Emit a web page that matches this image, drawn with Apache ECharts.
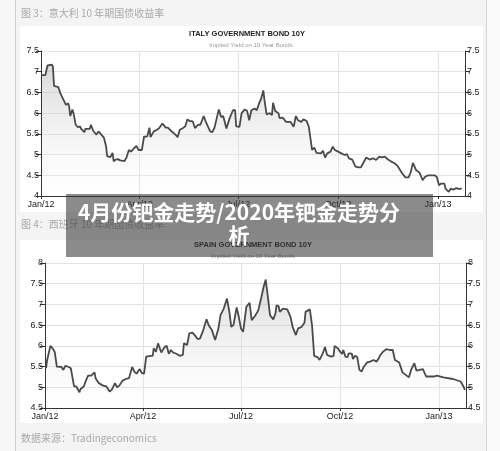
<!DOCTYPE html>
<html>
<head>
<meta charset="utf-8">
<script src="https://cdn.jsdelivr.net/npm/echarts@6/dist/echarts.min.js"></script>
<style>
html,body{margin:0;padding:0;background:#f4f4f4;}
#chart{width:500px;height:451px;}
</style>
</head>
<body>
<div id="chart"></div>
<script>
// x values: days since 2012-01-01
const tickDays = [0, 91, 182, 274, 366];
const tickLabels = ['Jan/12', 'Apr/12', 'Jul/12', 'Oct/12', 'Jan/13'];
const italyTicks = [4, 4.5, 5, 5.5, 6, 6.5, 7, 7.5];
const spainTicks = [4.5, 5, 5.5, 6, 6.5, 7, 7.5, 8];

const italyDays = [1,4,6,10,11,12,16,18,21,23,25,26,27,29,30,32,34,36,37,40,41,45,46,48,51,53,56,58,60,61,64,66,67,69,71,73,77,79,81,83,85,88,90,93,95,98,100,101,104,105,107,109,112,115,117,120,124,126,128,131,133,135,137,140,142,145,
  147,150,152,156,158,160,164,166,168,171,174,177,179,180,183,185,188,190,192,194,197,199,201,203,205,206,208,211,213,214,216,219,220,223,226,230,233,235,237,240,242,245,247,250,252,254,258,260,262,264,267,269,271,274,277,280,282,284,287,290,293,295,297,300,303,306,309,312,314,317,320,323,326,329,333,336,339,341,343,346,349,352,354,357,360,363,365,367,369,372,373,376,378,380,383,385,386,388];
const italyYield = [6.92,6.92,7.15,7.17,7.12,6.66,6.63,6.47,6.31,6.20,6.24,6.15,5.93,6.09,6.00,5.72,5.66,5.68,5.62,5.54,5.62,5.62,5.72,5.58,5.48,5.56,5.47,5.41,5.20,4.96,4.94,5.04,4.84,4.88,4.89,4.86,4.84,4.94,5.11,5.07,5.13,5.21,5.11,5.11,5.43,5.44,5.65,5.42,5.56,5.54,5.60,5.64,5.75,5.65,5.65,5.57,5.48,5.42,5.60,5.64,5.68,5.85,5.81,5.80,5.64,5.72,
  5.72,5.93,5.79,5.56,5.54,5.65,6.09,5.91,5.93,5.63,5.88,6.07,6.07,5.68,5.67,6.00,6.09,6.06,5.83,6.07,6.11,6.07,6.23,6.35,6.55,6.33,5.97,6.00,5.95,6.25,6.05,6.00,5.88,5.89,5.79,5.79,5.67,5.93,5.83,5.79,5.85,5.81,5.67,5.11,5.17,5.04,5.03,5.09,4.93,5.03,5.07,5.19,5.11,5.07,5.03,4.99,5.01,4.91,4.88,4.71,4.69,4.69,4.79,4.93,4.88,4.91,4.87,4.95,4.93,4.95,4.88,4.83,4.79,4.72,4.55,4.45,4.45,4.58,4.80,4.62,4.57,4.38,4.46,4.50,4.50,4.50,4.46,4.26,4.30,4.30,4.18,4.10,4.18,4.15,4.19,4.17,4.19,4.18];

const spainDays = [1,2,5,7,9,11,13,15,17,19,22,24,25,27,29,32,33,36,38,40,41,43,46,47,50,54,57,60,62,65,67,69,72,75,78,81,83,85,88,90,92,94,98,100,101,103,105,108,111,113,115,117,119,122,125,128,129,132,134,137,139,142,
  144,147,150,152,155,158,161,163,166,169,171,173,175,178,180,182,184,187,190,192,195,198,201,203,205,207,209,212,214,215,217,218,221,225,228,230,233,235,238,241,242,246,248,250,253,255,258,260,262,266,268,269,272,274,276,277,279,281,282,285,286,288,290,292,294,296,299,302,305,308,310,311,314,317,320,323,325,329,332,335,338,340,343,345,348,351,354,358,361,362,364,370,379,386,389,390];
const spainYield = [5.46,5.66,6.00,5.94,5.86,5.50,5.49,5.50,5.42,5.52,5.49,5.46,5.42,5.02,5.02,4.88,4.96,5.02,5.16,5.28,5.25,5.28,5.36,5.22,5.10,5.04,5.02,4.90,4.94,5.10,5.00,5.04,5.16,5.20,5.22,5.49,5.38,5.33,5.44,5.34,5.33,5.74,5.76,5.76,5.94,5.86,6.06,5.84,5.97,6.00,5.81,5.90,5.84,5.81,5.76,5.78,6.06,6.02,6.30,6.32,6.26,6.16,
  6.18,6.38,6.64,6.50,6.38,6.14,6.41,6.74,6.90,7.14,6.86,6.46,6.50,6.93,6.70,6.42,6.34,6.94,7.04,6.62,6.72,6.85,7.18,7.42,7.60,7.18,6.74,6.64,6.78,6.98,6.96,6.82,6.90,6.88,6.70,6.46,6.26,6.42,6.45,6.56,6.82,6.88,6.50,5.76,5.73,5.66,5.82,5.97,5.78,5.74,5.76,6.00,5.94,5.86,5.81,5.90,5.74,5.73,5.82,5.81,5.68,5.76,5.73,5.42,5.38,5.49,5.60,5.62,5.66,5.62,5.70,5.76,5.86,5.92,5.90,5.90,5.66,5.60,5.36,5.30,5.24,5.42,5.58,5.40,5.42,5.44,5.26,5.26,5.26,5.28,5.28,5.24,5.20,5.14,5.00,4.94];

const pair = (xs, ys) => xs.map((d, i) => [d, ys[i]]);

const axisColor = '#333';
const labelFont = {fontSize: 9, color: '#222', fontFamily: 'Liberation Sans, Arial, sans-serif'};

function xAxisDef(gi) {
  return {
    type: 'value', gridIndex: gi, min: 0, max: 391,
    axisLine: {show: true, lineStyle: {color: axisColor, width: 1}},
    axisTick: {show: true, length: 3, customValues: tickDays, lineStyle: {color: axisColor}},
    axisLabel: Object.assign({customValues: tickDays, margin: 4,
      formatter: v => tickLabels[tickDays.indexOf(v)] || ''}, labelFont),
    splitLine: {show: true, lineStyle: {color: '#e2e2e2', width: 1}}
  };
}
function yAxisDef(gi, ticks, pos, split) {
  return {
    type: 'value', gridIndex: gi, position: pos,
    min: ticks[0], max: ticks[ticks.length - 1], interval: 0.5,
    axisLine: {show: true, lineStyle: {color: axisColor, width: 1}},
    axisTick: {show: true, length: 5, lineStyle: {color: axisColor}},
    axisLabel: Object.assign({margin: 2}, labelFont),
    splitLine: {show: split, lineStyle: {color: '#e2e2e2', width: 1}}
  };
}
function areaSeries(xi, yi, data) {
  return {
    type: 'line', xAxisIndex: xi, yAxisIndex: yi, data: data,
    showSymbol: false, symbol: 'none', smooth: false,
    lineStyle: {color: '#4a4a4a', width: 1.8},
    areaStyle: {color: new echarts.graphic.LinearGradient(0, 0, 0, 1, [
      {offset: 0, color: 'rgba(165,165,165,0.6)'},
      {offset: 1, color: 'rgba(255,255,255,0.2)'}])},
    z: 3
  };
}

const chart = echarts.init(document.getElementById('chart'), null, {renderer: 'canvas'});
chart.setOption({
  backgroundColor: '#f4f4f4',
  animation: false,
  grid: [
    {left: 41, right: 35, top: 51, bottom: 255},
    {left: 45, right: 34, top: 263, bottom: 43}
  ],
  xAxis: [xAxisDef(0), xAxisDef(1)],
  yAxis: [
    yAxisDef(0, italyTicks, 'left', true),
    yAxisDef(0, italyTicks, 'right', false),
    yAxisDef(1, spainTicks, 'left', true),
    yAxisDef(1, spainTicks, 'right', false)
  ],
  series: [
    areaSeries(0, 0, pair(italyDays, italyYield)),
    areaSeries(1, 2, pair(spainDays, spainYield))
  ],
  graphic: {elements: [
    {type: 'rect', z: -10, silent: true, shape: {x: 0, y: 0, width: 15, height: 451}, style: {fill: '#f7f7f7'}},
    {type: 'rect', z: -10, silent: true, shape: {x: 15, y: 0, width: 1, height: 451}, style: {fill: '#cfcfcf'}},
    {type: 'rect', z: -10, silent: true, shape: {x: 486, y: 0, width: 1, height: 451}, style: {fill: '#d6d6d6'}},
    {type: 'rect', z: -10, silent: true, shape: {x: 487, y: 0, width: 13, height: 451}, style: {fill: '#fafafa'}},
    {type: 'rect', z: -10, silent: true, shape: {x: 20, y: 26, width: 463, height: 186}, style: {fill: '#ffffff'}},
    {type: 'rect', z: -10, silent: true, shape: {x: 20, y: 240, width: 463, height: 183}, style: {fill: '#ffffff'}},
    {type: 'text', z: 5, left: 21, top: 8, style: {text: '图 3：意大利 10 年期国债收益率', fill: '#a8a8a8', font: '10px "Noto Sans CJK SC", sans-serif'}},
    {type: 'text', z: 5, left: 21, top: 219, style: {text: '图 4：西班牙 10 年期国债收益率', fill: '#a8a8a8', font: '10px "Noto Sans CJK SC", sans-serif'}},
    {type: 'text', z: 5, left: 21, top: 433, style: {text: '数据来源：Tradingeconomics', fill: '#a8a8a8', font: '10px "Noto Sans CJK SC", sans-serif'}},
    {type: 'text', z: 5, x: 247, y: 34, style: {text: 'ITALY GOVERNMENT BOND 10Y', fill: '#222', align: 'center', verticalAlign: 'middle', font: 'bold 7.5px "Liberation Sans", Arial, sans-serif'}},
    {type: 'text', z: 5, x: 251, y: 45, style: {text: 'Implied Yield on 10 Year Bonds', fill: '#999', align: 'center', verticalAlign: 'middle', font: '6px "Liberation Sans", Arial, sans-serif'}},
    {type: 'text', z: 5, x: 253, y: 245, style: {text: 'SPAIN GOVERNMENT BOND 10Y', fill: '#222', align: 'center', verticalAlign: 'middle', font: 'bold 7.5px "Liberation Sans", Arial, sans-serif'}},
    {type: 'text', z: 5, x: 253, y: 256, style: {text: 'Implied Yield on 10 Year Bonds', fill: '#999', align: 'center', verticalAlign: 'middle', font: '6px "Liberation Sans", Arial, sans-serif'}},
    {type: 'rect', z: 100, silent: true, shape: {x: 66, y: 194, width: 367, height: 63}, style: {fill: 'rgba(55,55,55,0.58)'}},
    {type: 'text', z: 101, x: 239, y: 212, style: {text: '4月份钯金走势/2020年钯金走势分', fill: '#ffffff', align: 'center', verticalAlign: 'middle', font: 'bold 21px "Noto Sans CJK SC", sans-serif'}},
    {type: 'text', z: 101, x: 239, y: 235, style: {text: '析', fill: '#ffffff', align: 'center', verticalAlign: 'middle', font: 'bold 21px "Noto Sans CJK SC", sans-serif'}}
  ]}
});
</script>
</body>
</html>
